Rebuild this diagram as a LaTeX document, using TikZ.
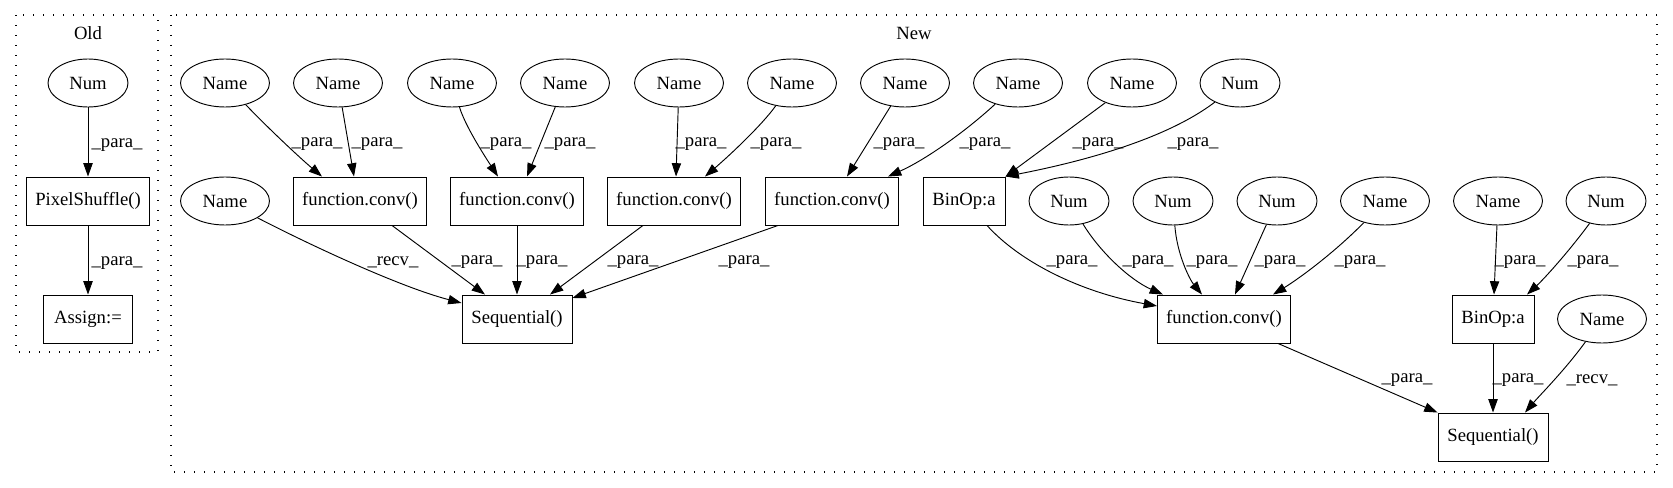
\documentclass[tikz,border=0pt]{standalone}
\usepackage{fontspec}
\setmainfont{Liberation Serif}
\newfontfamily\timesfont{Liberation Serif}
\usetikzlibrary{shapes.geometric,arrows.meta}
\begin{document}
\begin{tikzpicture}[x=0.75pt,y=-0.75pt,
  every node/.style={font=\timesfont\fontsize{14}{16}\selectfont},
  ell/.style={draw,ellipse,line width=0.7pt,inner sep=0pt,minimum height=36pt},
  namenode/.style={ell,minimum width=66.75pt},
  numnode/.style={ell,minimum width=60pt},
  rbox/.style={draw,rectangle,line width=0.7pt,inner sep=0pt,minimum height=36pt},
  convbox/.style={rbox,minimum width=99.75pt},
  binbox/.style={rbox,minimum width=61.5pt},
  seqbox/.style={rbox,minimum width=82.5pt},
  conn/.style={line width=0.7pt,-{Triangle[length=10pt,width=7pt]}},
  lab/.style={inner sep=0pt},
  cluster/.style={draw,line width=0.8pt,dash pattern=on 1pt off 6.5pt}
]
\fill[white] (0,0) rectangle (1673,488);
\useasboundingbox (0,0) rectangle (1673,488);

% clusters
\draw[cluster] (16,15) rectangle (158,352);
\draw[cluster] (171,15) rectangle (1657,472);
\node[lab] (oldlab) at (88,33) {Old};
\node[lab] (newlab) at (914,33) {New};

% Old
\node[numnode] (onum) at (88,83) {Num};
\node[rbox,minimum width=92.25pt] (ops) at (88,201) {PixelShuffle()};
\node[rbox,minimum width=66.75pt] (oas) at (88,319) {Assign:=};

% New row 1
\node[namenode] (n1) at (225,83) {Name};
\node[namenode] (n2) at (338,83) {Name};
\node[namenode] (n3) at (452,83) {Name};
\node[namenode] (n4) at (565,83) {Name};
\node[namenode] (n5) at (679,83) {Name};
\node[namenode] (n6) at (792,83) {Name};
\node[namenode] (n7) at (905,83) {Name};
\node[namenode] (n8) at (1018,83) {Name};
\node[namenode] (n9) at (1132,83) {Name};
\node[numnode] (m10) at (1240,83) {Num};

% row 2
\node[namenode] (r) at (225,201) {Name};
\node[convbox] (c1) at (360,201) {function.conv()};
\node[convbox] (c2) at (517,201) {function.conv()};
\node[convbox] (c3) at (674,201) {function.conv()};
\node[convbox] (c4) at (832,201) {function.conv()};
\node[binbox] (b1) at (964,201) {BinOp:a};
\node[numnode] (m1) at (1069,201) {Num};
\node[numnode] (m2) at (1173,201) {Num};
\node[numnode] (m3) at (1277,201) {Num};
\node[namenode] (n11) at (1385,201) {Name};
\node[namenode] (n12) at (1498,201) {Name};
\node[numnode] (m4) at (1606,201) {Num};

% row 3
\node[seqbox] (s1) at (517,319) {Sequential()};
\node[convbox] (c5) at (1224,319) {function.conv()};
\node[binbox] (b2) at (1493,319) {BinOp:a};
\node[namenode] (n13) at (1602,319) {Name};

% row 4
\node[seqbox] (s2) at (1493,437) {Sequential()};

% Old edges
\draw[conn] (onum) -- (ops);
\draw[conn] (ops) -- (oas);
\node[lab] at (117,145) {\_para\_};
\node[lab] at (117,263) {\_para\_};

% row1 -> row2
\draw[conn] (n1) .. controls (268,128) and (300,158) .. (c1.north -| 322,0);
\draw[conn] (n2) -- (c1.north -| 354,0);
\draw[conn] (n3) .. controls (465,125) and (482,152) .. (c2.north -| 498,0);
\draw[conn] (n4) -- (c2.north -| 527,0);
\draw[conn] (n5) -- (c3.north -| 676,0);
\draw[conn] (n6) .. controls (762,125) and (730,155) .. (c3.north -| 705,0);
\draw[conn] (n7) -- (c4.north -| 847,0);
\draw[conn] (n8) .. controls (965,132) and (925,160) .. (c4.north -| 888,0);
\draw[conn] (n9) -- (b1.north east);
\draw[conn] (m10) .. controls (1165,140) and (1080,162) .. (b1.north east);

\node[lab] at (317,144) {\_para\_};
\node[lab] at (377,144) {\_para\_};
\node[lab] at (506,144) {\_para\_};
\node[lab] at (570,144) {\_para\_};
\node[lab] at (701,144) {\_para\_};
\node[lab] at (776,144) {\_para\_};
\node[lab] at (899,144) {\_para\_};
\node[lab] at (985,144) {\_para\_};
\node[lab] at (1098,144) {\_para\_};
\node[lab] at (1193,144) {\_para\_};

% row2 -> row3
\draw[conn] (r) .. controls (310,245) and (400,287) .. (s1.west |- 0,303);
\draw[conn] (c1.south -| 392,0) -- (s1.north -| 485,0);
\draw[conn] (c2) -- (s1);
\draw[conn] (c3.south -| 643,0) -- (s1.north -| 550,0);
\draw[conn] (c4.south -| 778,0) -- (s1.east |- 0,298);
\draw[conn] (b1.south -| 987,0) .. controls (1020,262) and (1080,292) .. (c5.west |- 0,306);
\draw[conn] (m1) .. controls (1100,252) and (1130,280) .. (c5.north -| 1163,0);
\draw[conn] (m2) .. controls (1177,255) and (1190,280) .. (c5.north -| 1202,0);
\draw[conn] (m3) -- (c5.north -| 1235,0);
\draw[conn] (n11) .. controls (1335,252) and (1300,278) .. (c5.north -| 1273,0);
\draw[conn] (n12) -- (b2.north -| 1494,0);
\draw[conn] (m4) .. controls (1570,250) and (1545,278) .. (b2.north -| 1527,0);

\node[lab] at (393,262) {\_recv\_};
\node[lab] at (477,262) {\_para\_};
\node[lab] at (542,262) {\_para\_};
\node[lab] at (633,262) {\_para\_};
\node[lab] at (744,262) {\_para\_};
\node[lab] at (1072,262) {\_para\_};
\node[lab] at (1148,262) {\_para\_};
\node[lab] at (1212,262) {\_para\_};
\node[lab] at (1280,262) {\_para\_};
\node[lab] at (1360,262) {\_para\_};
\node[lab] at (1520,262) {\_para\_};
\node[lab] at (1593,262) {\_para\_};

% row3 -> row4
\draw[conn] (c5.south -| 1278,0) -- (s2.north west);
\draw[conn] (b2) -- (s2);
\draw[conn] (n13) .. controls (1565,370) and (1540,395) .. (s2.north -| 1525,0);

\node[lab] at (1407,380) {\_para\_};
\node[lab] at (1518,380) {\_para\_};
\node[lab] at (1592,380) {\_recv\_};
\end{tikzpicture}
\end{document}
